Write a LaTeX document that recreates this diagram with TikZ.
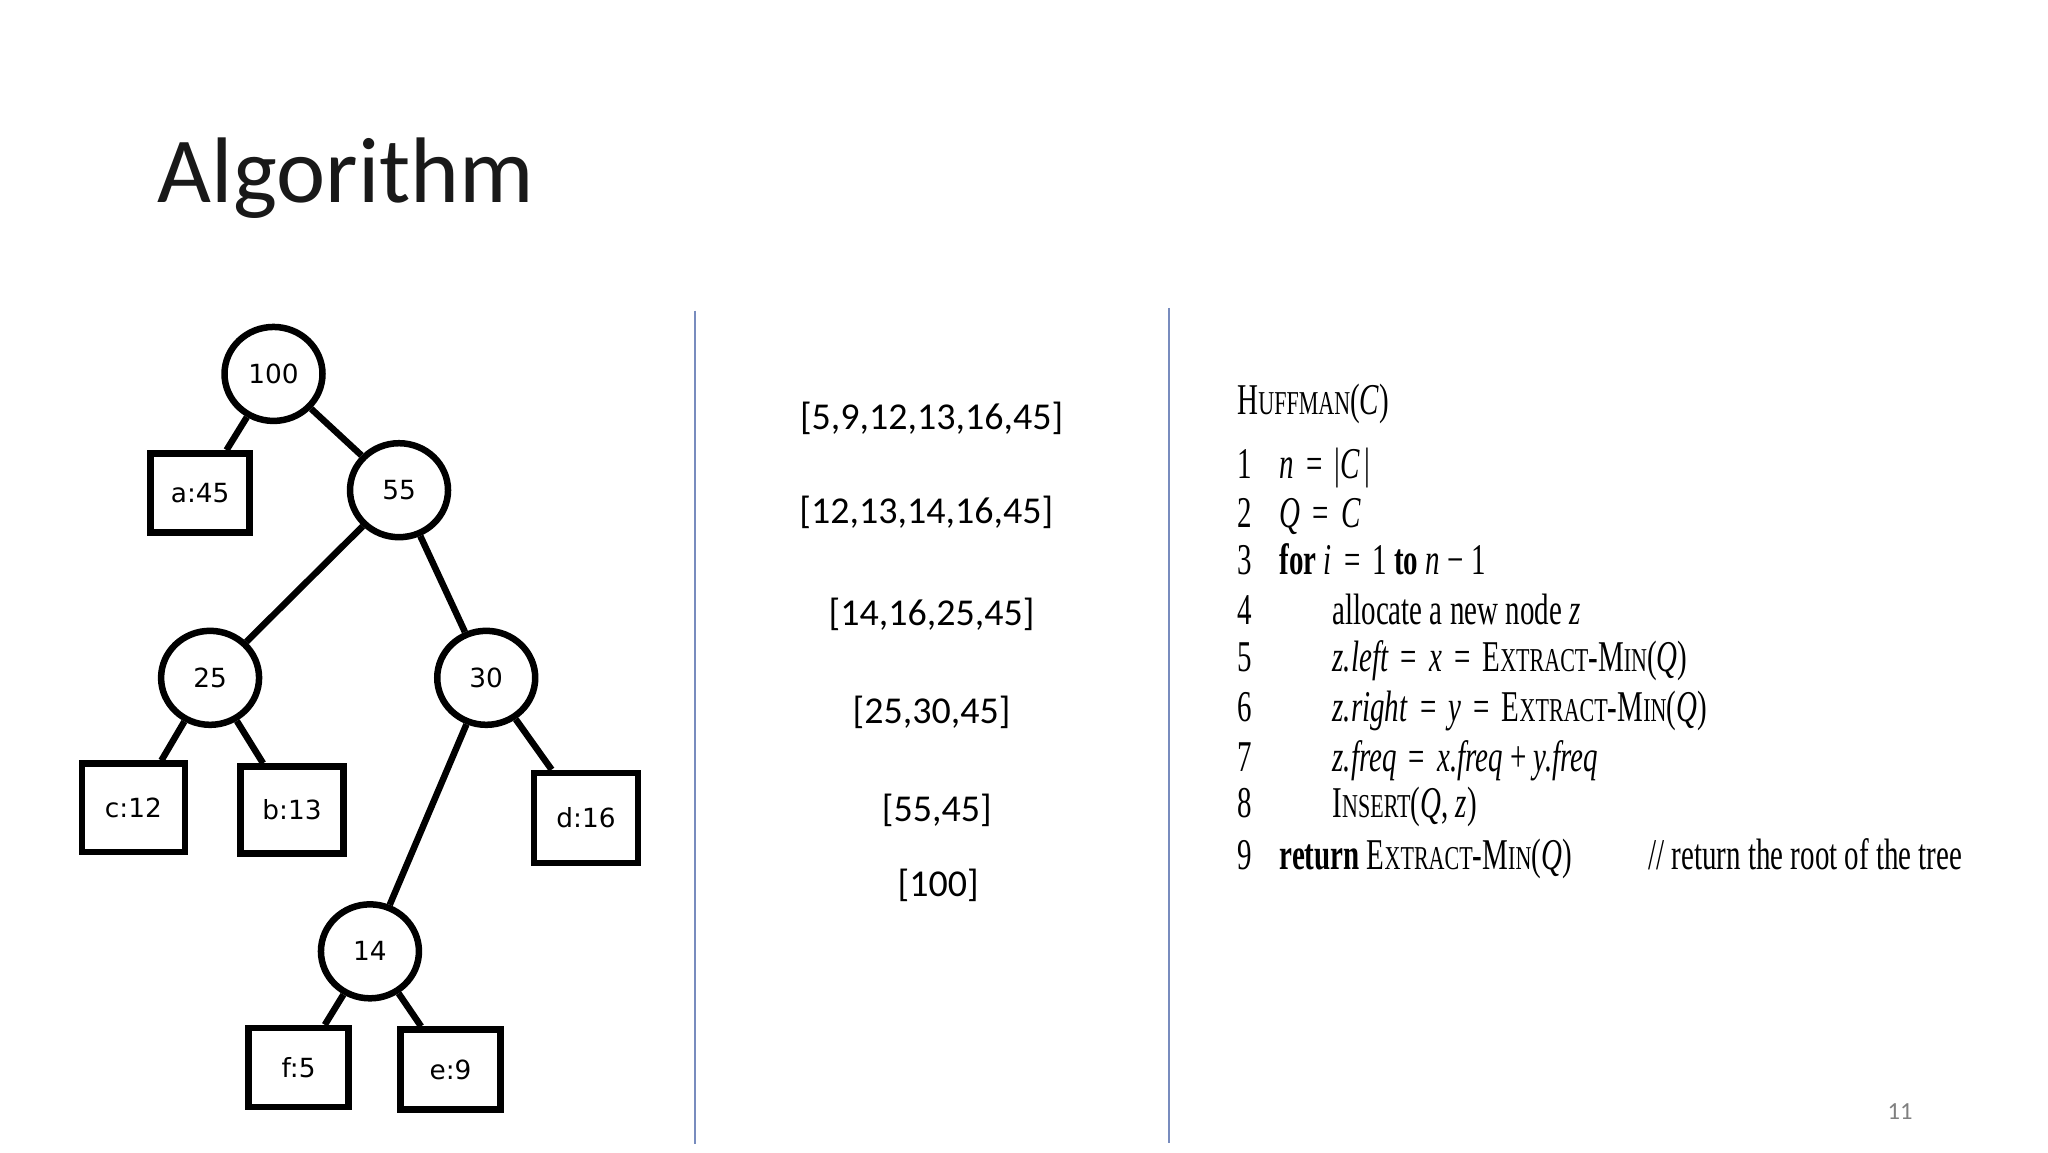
\documentclass[tikz,border=0pt]{standalone}
\usepackage{fontspec}
\usepackage{graphicx}
\usetikzlibrary{shapes.geometric}
\setmainfont{Carlito}
\newfontfamily\treefont{DejaVu Sans}
\newfontfamily\codefont{Liberation Serif}
\definecolor{vline}{RGB}{120,140,190}
\newcommand{\cs}[1]{\scalebox{0.66}[1]{\codefont\fontsize{12.5}{14}\selectfont #1}}
\newcommand{\sct}[2]{#1{\fontsize{9.5}{10}\selectfont #2}}
\newcommand{\eq}{\ \,=\ \,}
\begin{document}
\begin{tikzpicture}[x=0.013213cm,y=-0.013213cm,
  inner/.style={draw,line width=1.85pt,ellipse,minimum width=0.98cm,minimum height=0.94cm,inner sep=0pt,font=\treefont\fontsize{7.5}{9}\selectfont},
  leaf/.style={draw,line width=1.85pt,rectangle,inner sep=0pt,font=\treefont\fontsize{7.5}{9}\selectfont},
  edge/.style={line width=1.85pt},
  lst/.style={font=\fontsize{10.8}{13}\selectfont},
  code/.style={anchor=base west,inner sep=0pt}]
\useasboundingbox (0,0) rectangle (1550,871.9);
\node[anchor=base west,inner sep=0pt,font=\fontsize{26.5}{30}\selectfont,text=black!90] (title) at (119,153) {Algorithm};
% tree
\node[inner] (n100) at (207,283) {100};
\node[inner] (n55) at (302,371) {55};
\node[inner] (n25) at (159,513) {25};
\node[inner] (n30) at (368,513) {30};
\node[inner] (n14) at (280,720) {14};
\node[leaf,minimum width=0.99cm,minimum height=0.79cm] (a) at (151.5,373) {a:45};
\node[leaf,minimum width=1.03cm,minimum height=0.885cm] (c) at (101,611.5) {c:12};
\node[leaf,minimum width=1.03cm,minimum height=0.87cm] (b) at (221,613) {b:13};
\node[leaf,minimum width=1.04cm,minimum height=0.9cm] (d) at (443.5,619) {d:16};
\node[leaf,minimum width=1.0cm,minimum height=0.79cm] (f) at (226,808) {f:5};
\node[leaf,minimum width=1.0cm,minimum height=0.8cm] (e) at (341,809.5) {e:9};
\draw[edge] (n100) -- (a);
\draw[edge] (n100) -- (n55);
\draw[edge] (n55) -- (n25);
\draw[edge] (n55) -- (n30);
\draw[edge] (n25) -- (c);
\draw[edge] (n25) -- (b);
\draw[edge] (n30) -- (n14);
\draw[edge] (n30) -- (d);
\draw[edge] (n14) -- (f);
\draw[edge] (n14) -- (e);
% separators
\coordinate (v1t) at (526,235); \coordinate (v1b) at (526,866);
\coordinate (v2t) at (885,233); \coordinate (v2b) at (885,865);
\draw[vline,line width=0.6pt] (v1t) -- (v1b);
\draw[vline,line width=0.6pt] (v2t) -- (v2b);
% lists
\node[lst] (l1) at (705,317) {[5,9,12,13,16,45]};
\node[lst] (l2) at (701,388) {[12,13,14,16,45]};
\node[lst] (l3) at (705,465) {[14,16,25,45]};
\node[lst] (l4) at (705,539) {[25,30,45]};
\node[lst] (l5) at (709,613) {[55,45]};
\node[lst] (l6) at (710,670) {[100]};
% code
\node[code] (h) at (936,314) {\cs{\sct{H}{UFFMAN}(\textit{C})}};
\node[code] (k1) at (936,362) {\cs{1}};
\node[code] (k2) at (936,399) {\cs{2}};
\node[code] (k3) at (936,435) {\cs{3}};
\node[code] (k4) at (936,473) {\cs{4}};
\node[code] (k5) at (936,508) {\cs{5}};
\node[code] (k6) at (936,546) {\cs{6}};
\node[code] (k7) at (936,584) {\cs{7}};
\node[code] (k8) at (936,619) {\cs{8}};
\node[code] (k9) at (936,658) {\cs{9}};
\node[code] (c1) at (968,362) {\cs{\textit{n}\eq|\textit{C}\,|}};
\node[code] (c2) at (968,399) {\cs{\textit{Q}\eq\textit{C}}};
\node[code] (c3) at (968,435) {\cs{\textbf{for} \textit{i}\eq1 \textbf{to} \textit{n} − 1}};
\node[code] (c4) at (1008,473) {\cs{allocate a new node \textit{z}}};
\node[code] (c5) at (1008,508) {\cs{\textit{z.left}\eq\textit{x}\eq\sct{E}{XTRACT}-\sct{M}{IN}(\textit{Q})}};
\node[code] (c6) at (1008,546) {\cs{\textit{z.right}\eq\textit{y}\eq\sct{E}{XTRACT}-\sct{M}{IN}(\textit{Q})}};
\node[code] (c7) at (1008,584) {\cs{\textit{z.freq}\eq\textit{x.freq} + \textit{y.freq}}};
\node[code] (c8) at (1008,619) {\cs{\sct{I}{NSERT}(\textit{Q}, \textit{z})}};
\node[code] (c9) at (968,658) {\cs{\textbf{return} \sct{E}{XTRACT}-\sct{M}{IN}(\textit{Q})}};
\node[code] (c9c) at (1247,658) {\cs{// return the root of the tree}};
\node[text=black!50,font=\fontsize{7}{8}\selectfont] (pg) at (1438,841) {11};
\end{tikzpicture}
\end{document}
